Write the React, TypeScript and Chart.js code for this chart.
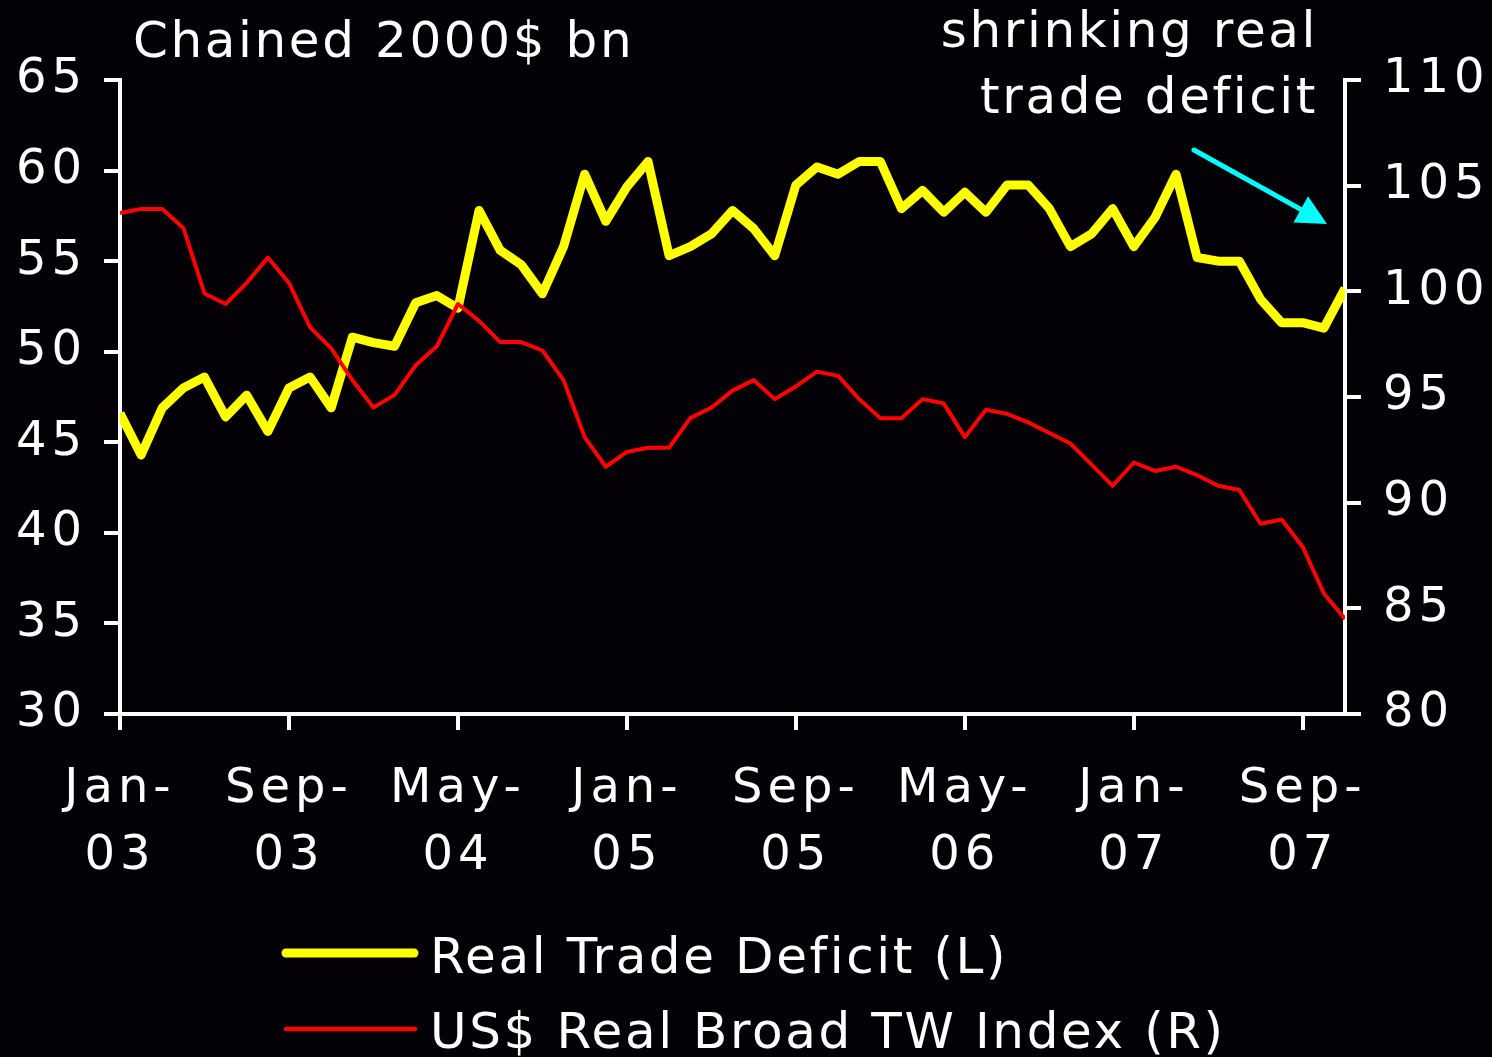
import React, { useEffect, useRef } from 'react';
import { Chart, registerables } from 'chart.js';

Chart.register(...registerables);

const months = [
  'Jan-03', 'Feb-03', 'Mar-03', 'Apr-03', 'May-03', 'Jun-03', 'Jul-03', 'Aug-03', 'Sep-03', 'Oct-03', 'Nov-03', 'Dec-03',
  'Jan-04', 'Feb-04', 'Mar-04', 'Apr-04', 'May-04', 'Jun-04', 'Jul-04', 'Aug-04', 'Sep-04', 'Oct-04', 'Nov-04', 'Dec-04',
  'Jan-05', 'Feb-05', 'Mar-05', 'Apr-05', 'May-05', 'Jun-05', 'Jul-05', 'Aug-05', 'Sep-05', 'Oct-05', 'Nov-05', 'Dec-05',
  'Jan-06', 'Feb-06', 'Mar-06', 'Apr-06', 'May-06', 'Jun-06', 'Jul-06', 'Aug-06', 'Sep-06', 'Oct-06', 'Nov-06', 'Dec-06',
  'Jan-07', 'Feb-07', 'Mar-07', 'Apr-07', 'May-07', 'Jun-07', 'Jul-07', 'Aug-07', 'Sep-07', 'Oct-07', 'Nov-07',
];

const tradeDeficit = [
  46.6, 44.3, 46.9, 48.0, 48.6, 46.4, 47.6, 45.6, 48.0, 48.6,
  46.9, 50.8, 50.5, 50.3, 52.7, 53.1, 52.4, 57.8, 55.6, 54.8,
  53.2, 55.8, 59.8, 57.2, 59.1, 60.5, 55.3, 55.8, 56.5, 57.8,
  56.8, 55.3, 59.2, 60.2, 59.8, 60.5, 60.5, 57.9, 58.9, 57.7,
  58.8, 57.7, 59.2, 59.2, 57.9, 55.8, 56.5, 57.9, 55.8, 57.4,
  59.8, 55.2, 55.0, 55.0, 52.9, 51.6, 51.6, 51.3, 53.5,
];

const dollarIndex = [
  103.7, 103.9, 103.9, 103.0, 99.9, 99.4, 100.4, 101.6, 100.4, 98.3,
  97.3, 95.8, 94.5, 95.1, 96.5, 97.4, 99.4, 98.6, 97.6, 97.6,
  97.2, 95.8, 93.1, 91.7, 92.4, 92.6, 92.6, 94.0, 94.5, 95.3,
  95.8, 94.9, 95.5, 96.2, 96.0, 94.9, 94.0, 94.0, 94.9, 94.7,
  93.1, 94.4, 94.2, 93.8, 93.3, 92.8, 91.8, 90.8, 91.9, 91.5,
  91.7, 91.3, 90.8, 90.6, 89.0, 89.2, 87.9, 85.7, 84.5,
];

const leftAxisRange = [30, 65];
const rightAxisRange = [80, 110];
const axisStep = 5;
const labelEvery = 8;

const titleText = 'Chained 2000$ bn';
const annotationLines = ['shrinking real', 'trade deficit'];
const legendLabels = ['Real Trade Deficit (L)', 'US$ Real Broad TW Index (R)'];

const W = 1492;
const H = 1057;
const FONT = '"DejaVu Sans", Verdana, sans-serif';
const BG = '#030106';
const WHITE = '#ffffff';
const YELLOW = '#ffff00';
const RED = '#ff0000';
const CYAN = '#00ffff';

export default function App() {
  const ref = useRef<HTMLCanvasElement>(null);

  useEffect(() => {
    const canvas = ref.current;
    if (!canvas) return;

    const decorPlugin = {
      id: 'decor',
      beforeUpdate(chart: any) {
        chart.ctx.letterSpacing = '5px';
      },
      beforeDraw(chart: any) {
        chart.ctx.letterSpacing = '5px';
      },
      afterDraw(chart: any) {
        const ctx = chart.ctx as CanvasRenderingContext2D;
        ctx.save();
        (ctx as any).letterSpacing = '2.6px';
        ctx.fillStyle = WHITE;
        ctx.font = `50px ${FONT}`;
        ctx.textBaseline = 'alphabetic';

        // title
        ctx.textAlign = 'left';
        ctx.fillText(titleText, 133, 57);

        // annotation
        ctx.textAlign = 'right';
        ctx.fillText(annotationLines[0], 1318, 47);
        ctx.fillText(annotationLines[1], 1318, 113);

        // arrow
        const x0 = 1194, y0 = 150, x1 = 1327, y1 = 224;
        const dx = x1 - x0, dy = y1 - y0;
        const len = Math.hypot(dx, dy);
        const ux = dx / len, uy = dy / len;
        const headLen = 30, headHalf = 15;
        const bx = x1 - ux * headLen, by = y1 - uy * headLen;
        ctx.strokeStyle = CYAN;
        ctx.fillStyle = CYAN;
        ctx.lineWidth = 5;
        ctx.lineCap = 'round';
        ctx.beginPath();
        ctx.moveTo(x0, y0);
        ctx.lineTo(bx + ux * 2, by + uy * 2);
        ctx.stroke();
        ctx.beginPath();
        ctx.moveTo(x1, y1);
        ctx.lineTo(bx - uy * headHalf, by + ux * headHalf);
        ctx.lineTo(bx + uy * headHalf, by - ux * headHalf);
        ctx.closePath();
        ctx.fill();

        // legend
        ctx.lineCap = 'round';
        ctx.strokeStyle = YELLOW;
        ctx.lineWidth = 9;
        ctx.beginPath();
        ctx.moveTo(286, 953);
        ctx.lineTo(414, 953);
        ctx.stroke();
        ctx.strokeStyle = RED;
        ctx.lineWidth = 4.5;
        ctx.beginPath();
        ctx.moveTo(286, 1029);
        ctx.lineTo(415, 1029);
        ctx.stroke();

        ctx.fillStyle = WHITE;
        ctx.textAlign = 'left';
        ctx.fillText(legendLabels[0], 430, 973);
        ctx.fillText(legendLabels[1], 430, 1048);
        ctx.restore();
      },
    };

    const tickFont = { family: FONT, size: 48, lineHeight: 1.4 };

    const chart = new Chart(canvas, {
      type: 'line',
      data: {
        labels: months,
        datasets: [
          {
            label: legendLabels[0],
            data: tradeDeficit,
            yAxisID: 'yL',
            borderColor: YELLOW,
            backgroundColor: YELLOW,
            borderWidth: 9,
            borderJoinStyle: 'round',
            pointRadius: 0,
            tension: 0,
            order: 2,
            clip: 0,
          },
          {
            label: legendLabels[1],
            data: dollarIndex,
            yAxisID: 'yR',
            borderColor: RED,
            backgroundColor: RED,
            borderWidth: 4,
            borderJoinStyle: 'round',
            pointRadius: 0,
            tension: 0,
            order: 1,
            clip: 0,
          },
        ],
      },
      options: {
        responsive: false,
        animation: false,
        devicePixelRatio: 1,
        events: [],
        layout: { padding: { top: 80, left: 0, right: 0, bottom: 0 } },
        plugins: {
          legend: { display: false },
          tooltip: { enabled: false },
          title: { display: false },
        },
        scales: {
          x: {
            type: 'category',
            offset: false,
            grid: {
              display: true,
              drawOnChartArea: false,
              drawTicks: true,
              tickLength: 16,
              lineWidth: 4,
              color: (c: any) => (c.index % labelEvery === 0 ? WHITE : 'rgba(0,0,0,0)'),
            },
            border: { display: true, color: WHITE, width: 4 },
            ticks: {
              autoSkip: false,
              maxRotation: 0,
              minRotation: 0,
              color: WHITE,
              font: tickFont,
              padding: 26,
              callback: (_v: any, index: number) => {
                if (index % labelEvery !== 0) return '';
                const parts = months[index].split('-');
                return [parts[0] + '-', parts[1]];
              },
            },
            afterFit: (s: any) => {
              s.height = H - 714;
            },
          },
          yL: {
            type: 'linear',
            position: 'left',
            min: leftAxisRange[0],
            max: leftAxisRange[1],
            grid: { display: true, drawOnChartArea: false, tickLength: 16, lineWidth: 4, color: WHITE },
            border: { display: true, color: WHITE, width: 4 },
            ticks: { stepSize: axisStep, color: WHITE, font: tickFont, padding: 17 },
            afterFit: (s: any) => {
              s.width = 120;
            },
          },
          yR: {
            type: 'linear',
            position: 'right',
            min: rightAxisRange[0],
            max: rightAxisRange[1],
            grid: { display: true, drawOnChartArea: false, tickLength: 16, lineWidth: 4, color: WHITE },
            border: { display: true, color: WHITE, width: 4 },
            ticks: { stepSize: axisStep, color: WHITE, font: tickFont, padding: 22 },
            afterFit: (s: any) => {
              s.width = W - 1345;
            },
          },
        },
      },
      plugins: [decorPlugin],
    } as any);

    return () => chart.destroy();
  }, []);

  return (
    <div
      style={{
        position: 'absolute',
        left: 0,
        top: 0,
        width: W,
        height: H,
        background: BG,
        overflow: 'hidden',
      }}
    >
      <canvas ref={ref} width={W} height={H} style={{ display: 'block', width: W, height: H }} />
    </div>
  );
}
